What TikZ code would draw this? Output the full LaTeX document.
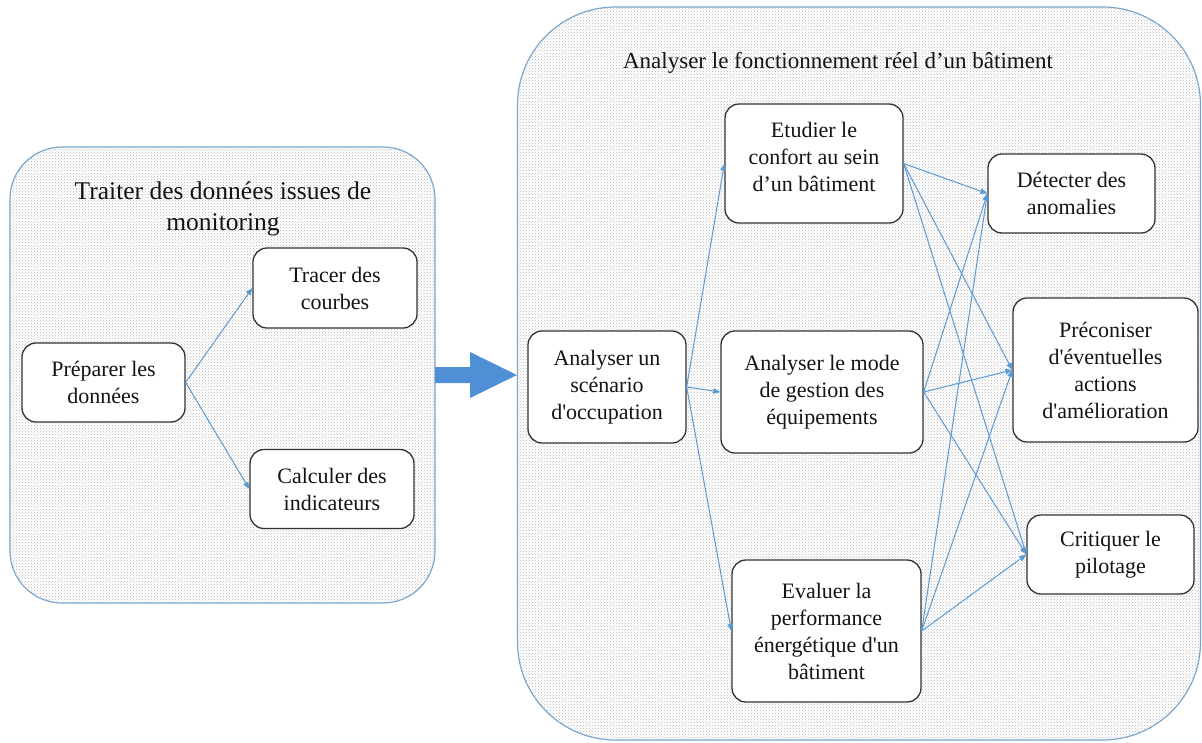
\documentclass[tikz,border=0pt]{standalone}
\usepackage{fontspec}
\setmainfont{Liberation Serif}[Ligatures=TeXOff]
\usetikzlibrary{arrows.meta,patterns}
\definecolor{lnblue}{RGB}{91,155,213}
\definecolor{frameblue}{RGB}{120,165,205}
\definecolor{bigblue}{RGB}{79,143,214}
\definecolor{txt}{RGB}{20,20,20}
\begin{document}
\begin{tikzpicture}[x=1pt,y=-1pt,
  container/.style={draw=frameblue, line width=1.2pt, fill=white, postaction={pattern=crosshatch dots, pattern color=black!28}},
  box/.style={draw=black!80, line width=1.3pt, rounded corners=14pt, fill=white, align=center, text=txt, inner sep=0pt, font=\fontsize{22}{27}\selectfont},
  ttl/.style={align=center, text=txt, font=\fontsize{23}{30}\selectfont, inner sep=0pt},
  conn/.style={draw=lnblue, line width=1pt, -{Triangle[length=7pt,width=5.5pt]}}
]
\useasboundingbox (0,0) rectangle (1202,742);

% containers
\path[container, rounded corners=52pt] (10,147) rectangle (435,603);
\path[container, rounded corners=98pt] (517.5,7) rectangle (1200.5,740);

% titles
\node[ttl, font=\fontsize{25.5}{31}\selectfont] (t1) at (223,209) {Traiter des données issues de\\monitoring};
\node[ttl] (t2) at (838,63) {Analyser le fonctionnement réel d’un bâtiment};

% big arrow
\fill[bigblue] (435,367) -- (470,367) -- (470,352) -- (517,375) -- (470,398) -- (470,383) -- (435,383) -- cycle;

% left nodes
\node[box, minimum width=163pt, minimum height=79pt] (prep) at (103.5,382.5) {Préparer les\\données};
\node[box, minimum width=164pt, minimum height=80pt] (tracer) at (335,288) {Tracer des\\courbes};
\node[box, minimum width=164pt, minimum height=79pt] (calc) at (332,489) {Calculer des\\indicateurs};

% right nodes
\node[box, minimum width=158pt, minimum height=112pt] (scen) at (607,387) {Analyser un\\scénario\\d'occupation};
\node[box, minimum width=178pt, minimum height=119pt] (etud) at (814,163.5) {Etudier le\\confort au sein\\d’un bâtiment\\[-14pt]};
\node[box, minimum width=202pt, minimum height=122pt] (mode) at (822,392) {Analyser le mode\\de gestion des\\équipements};
\node[box, minimum width=189pt, minimum height=142pt] (eval) at (826.5,631) {Evaluer la\\performance\\énergétique d'un\\bâtiment};
\node[box, minimum width=167pt, minimum height=79pt] (detect) at (1071.5,193.5) {Détecter des\\anomalies};
\node[box, minimum width=185pt, minimum height=144pt] (preco) at (1105.5,370) {Préconiser\\d'éventuelles\\actions\\d'amélioration};
\node[box, minimum width=167pt, minimum height=79pt] (crit) at (1110.5,554.5) {Critiquer le\\pilotage};

% connectors
\draw[conn] (prep.east) -- (tracer.west);
\draw[conn] (prep.east) -- (calc.west);

\draw[conn] (scen.east) -- (etud.west);
\draw[conn] (scen.east) -- (mode.west);
\draw[conn] (scen.east) -- (eval.west);

\foreach \s in {etud,mode,eval}{
  \foreach \t in {detect,preco,crit}{
    \draw[conn] (\s.east) -- (\t.west);
  }
}
\end{tikzpicture}
\end{document}
